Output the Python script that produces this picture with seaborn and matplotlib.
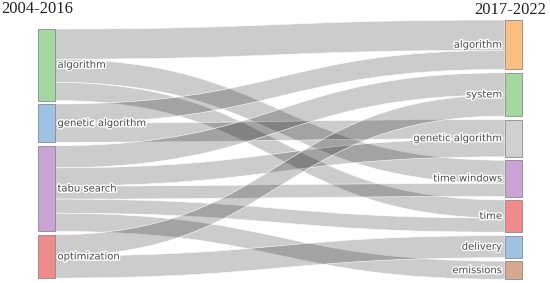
import numpy as np
import matplotlib
matplotlib.use("Agg")
import matplotlib.pyplot as plt
import matplotlib.patheffects as pe
from matplotlib.path import Path
from matplotlib.patches import PathPatch, Rectangle
import seaborn as sns

# node names per period
left_nodes = ["algorithm", "genetic algorithm", "tabu search", "optimization"]
right_nodes = ["algorithm", "system", "genetic algorithm", "time windows",
               "time", "delivery", "emissions"]
left_title = "2004-2016"
right_title = "2017-2022"

# links: source index (left), target index (right), value
link_source = [0, 0, 0, 1, 1, 2, 2, 2, 2, 2, 3, 3]
link_target = [0, 3, 4, 0, 2, 1, 2, 3, 4, 6, 1, 5]
link_value = [30, 23, 18, 19, 19, 22, 18, 13, 14, 18, 21, 22]

left_colors = ["#a4d8a0", "#9ec3e2", "#c9a4d4", "#f08b8b"]
right_colors = ["#fdbf80", "#a4d8a0", "#d0d0d0", "#c9a4d4", "#f08b8b",
                "#9ec3e2", "#d4a98f"]

sns.set_theme(style="white")
plt.rcParams["font.family"] = ["DejaVu Sans"]

W, H = 550, 283
fig = plt.figure(figsize=(W / 100, H / 100), dpi=100)
ax = fig.add_axes([0, 0, 1, 1])
ax.set_xlim(0, W)
ax.set_ylim(H, 0)
ax.axis("off")

# layout
pad = 3.4
node_w = 16.5
x_left, x_right = 38, 505
top_left, top_right = 29, 20
src = np.array(link_source)
tgt = np.array(link_target)
val = np.array(link_value, dtype=float)
left_tot = np.array([val[src == i].sum() for i in range(len(left_nodes))])
right_tot = np.array([val[tgt == j].sum() for j in range(len(right_nodes))])
ky = (259.3 - pad * (len(right_nodes) - 1)) / right_tot.sum()


def stack(totals, top):
    ys = []
    y = top
    for t in totals:
        ys.append(y)
        y += t * ky + pad
    return np.array(ys)


left_y = stack(left_tot, top_left)
right_y = stack(right_tot, top_right)

# link offsets at both ends
src_off = left_y.copy()
tgt_off = right_y.copy()
order = sorted(range(len(val)), key=lambda k: (src[k], tgt[k]))
y0s = {}
for k in order:
    y0s[k] = src_off[src[k]]
    src_off[src[k]] += val[k] * ky
order = sorted(range(len(val)), key=lambda k: (tgt[k], src[k]))
y1s = {}
for k in order:
    y1s[k] = tgt_off[tgt[k]]
    tgt_off[tgt[k]] += val[k] * ky

xa = x_left + node_w
xb = x_right
xm = (xa + xb) / 2
for k in range(len(val)):
    h = val[k] * ky
    a0, b0 = y0s[k], y1s[k]
    verts = [(xa, a0), (xm, a0), (xm, b0), (xb, b0),
             (xb, b0 + h), (xm, b0 + h), (xm, a0 + h), (xa, a0 + h), (xa, a0)]
    codes = [Path.MOVETO, Path.CURVE4, Path.CURVE4, Path.CURVE4,
             Path.LINETO, Path.CURVE4, Path.CURVE4, Path.CURVE4, Path.CLOSEPOLY]
    ax.add_patch(PathPatch(Path(verts, codes), facecolor=(0, 0, 0, 0.2),
                           edgecolor="white", lw=0.4, zorder=1))

halo = [pe.withStroke(linewidth=2, foreground="white")]
for i, name in enumerate(left_nodes):
    h = left_tot[i] * ky
    ax.add_patch(Rectangle((x_left, left_y[i]), node_w, h, facecolor=left_colors[i],
                           edgecolor="#8a8a8a", lw=0.6, zorder=2))
    ax.text(x_left + node_w + 3, left_y[i] + h / 2, name, fontsize=7.2,
            color="#4a4a4a", ha="left", va="center", zorder=3, path_effects=halo)
for j, name in enumerate(right_nodes):
    h = right_tot[j] * ky
    ax.add_patch(Rectangle((x_right, right_y[j]), node_w, h, facecolor=right_colors[j],
                           edgecolor="#8a8a8a", lw=0.6, zorder=2))
    ax.text(x_right - 3, right_y[j] + h / 2, name, fontsize=7.2,
            color="#4a4a4a", ha="right", va="center", zorder=3, path_effects=halo)

ax.text(1, 1, left_title, fontsize=12, family="Liberation Serif",
        color="#222222", ha="left", va="top")
ax.text(546, 2, right_title, fontsize=12, family="Liberation Serif",
        color="#222222", ha="right", va="top")

fig.savefig("out.png", dpi=100)
